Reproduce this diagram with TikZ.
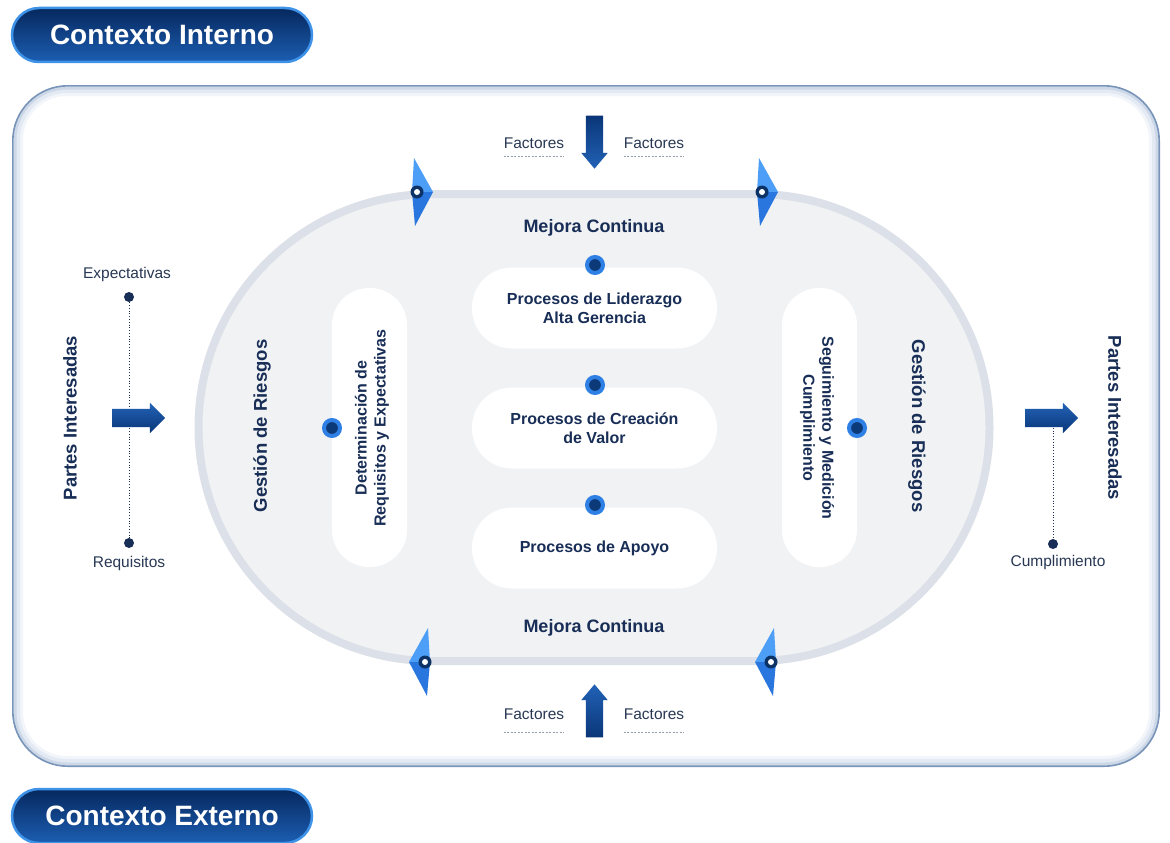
\documentclass[tikz,border=0pt]{standalone}
\usepackage{fontspec}
\setmainfont{Liberation Sans}
\usetikzlibrary{shapes.arrows,calc}
\definecolor{navy}{RGB}{24,46,86}
\definecolor{txt}{RGB}{40,56,84}
\definecolor{pilltop}{RGB}{6,40,94}
\definecolor{pillbot}{RGB}{28,94,178}
\definecolor{pillrim}{RGB}{62,146,232}
\definecolor{arrdark}{RGB}{10,54,120}
\definecolor{arrlight}{RGB}{34,98,182}
\definecolor{chevlight}{RGB}{76,158,246}
\definecolor{chevdark}{RGB}{40,118,222}
\definecolor{ringc}{RGB}{12,50,102}
\definecolor{stadfill}{RGB}{241,242,244}
\definecolor{stadband}{RGB}{220,224,232}
\definecolor{dotblue}{RGB}{46,128,228}
\definecolor{dotdark}{RGB}{12,58,120}
\definecolor{boxrim}{RGB}{120,148,184}
\definecolor{uline}{RGB}{150,158,172}
\begin{document}
\begin{tikzpicture}[x=1pt,y=-1pt,
  every node/.style={font=\fontsize{15.5}{18}\selectfont, text=txt},
  title/.style={rounded corners=27pt, minimum width=300pt, minimum height=54pt,
    top color=pilltop, bottom color=pillbot, draw=pillrim, line width=2.5pt,
    text=white, font=\fontsize{28}{32}\selectfont\bfseries},
  proc/.style={rectangle, rounded corners=40pt, fill=white, minimum width=245pt,
    minimum height=81pt, align=center, inner sep=0pt,
    font=\fontsize{16}{19}\selectfont\bfseries, text=navy},
  vpill/.style={rectangle, rounded corners=37pt, fill=white, minimum width=75pt,
    minimum height=279pt},
  vtext/.style={align=center, font=\fontsize{16}{19}\selectfont\bfseries, text=navy},
  bigtext/.style={font=\fontsize{18.5}{22}\selectfont\bfseries, text=navy},
  mejora/.style={font=\fontsize{18}{22}\selectfont\bfseries, text=navy},
  bdot/.style={circle, fill=dotdark, draw=dotblue, line width=4pt, minimum size=16pt, inner sep=0pt},
  sdot/.style={circle, fill=navy, minimum size=10pt, inner sep=0pt},
  harrow/.style={single arrow, single arrow head extend=6pt, minimum width=30pt,
    minimum height=53pt, inner sep=0pt, single arrow tip angle=90,
    top color=arrlight, bottom color=arrdark, draw=none},
  varrow/.style={single arrow, single arrow head extend=4.5pt, minimum width=26pt,
    minimum height=53pt, inner sep=0pt, single arrow tip angle=80, draw=none},
  factor/.style={inner sep=0pt},
  uline/.style={draw=uline, line width=0.8pt, dash pattern=on 2pt off 1.5pt},
  chev/.pic={
    \fill[chevlight] (-19,-34) -- (0,0) -- (-21,0) -- cycle;
    \fill[chevdark] (-21,0) -- (0,0) -- (-18,34) -- cycle;
    \fill[ringc] (-16,0) circle[radius=6.5];
    \fill[white] (-16,0) circle[radius=3];
  }
]
\useasboundingbox (0,0) rectangle (1170,843);
\fill[white] (0,0) rectangle (1170,843);

% outer box with inner shadow
\fill[white, rounded corners=55pt] (12,85) rectangle (1160,767);
\draw[draw={rgb,255:red,242;green,245;blue,250}, line width=4pt, rounded corners=46pt] (21,94) rectangle (1151,758);
\draw[draw={rgb,255:red,228;green,234;blue,243}, line width=4pt, rounded corners=49pt] (18,91) rectangle (1154,761);
\draw[draw={rgb,255:red,204;green,216;blue,232}, line width=3pt, rounded corners=52pt] (15,88) rectangle (1157,764);
\draw[draw=boxrim, line width=1.6pt, rounded corners=55pt] (12.8,85.8) rectangle (1159.2,766.2);

% title pills
\node[title] (ci) at (162,35) {Contexto Interno};
\node[title] (ce) at (162,816) {Contexto Externo};

% stadium
\draw[draw=stadband, line width=8pt, fill=stadfill, rounded corners=233.5pt] (198.5,194) rectangle (989.5,661);

% process pills
\node[proc] (lid) at (594.5,308) {Procesos de Liderazgo\\Alta Gerencia};
\node[proc] (cre) at (594.5,428) {Procesos de Creación\\de Valor};
\node[proc] (apo) at (594.5,548) {Procesos de Apoyo};
\node[vpill] (vl) at (369.5,427.5) {};
\node[vpill] (vr) at (819.5,427.5) {};
\node[vtext, rotate=90] (detx) at (372,428) {Determinación de\\Requisitos y Expectativas};
\node[vtext, rotate=-90] (segx) at (817,428) {Seguimiento y Medición\\Cumplimiento};

% blue dots
\node[bdot] (d1) at (595,265) {};
\node[bdot] (d2) at (595,385) {};
\node[bdot] (d3) at (595,505) {};
\node[bdot] (d4) at (332,428) {};
\node[bdot] (d5) at (857,428) {};

% labels inside stadium
\node[mejora] (mc1) at (594,228) {Mejora Continua};
\node[mejora] (mc2) at (594,628) {Mejora Continua};
\node[bigtext, rotate=90] (gr1) at (262,426) {Gestión de Riesgos};
\node[bigtext, rotate=-90] (gr2) at (917,426) {Gestión de Riesgos};

% chevrons
\pic at (433,192) {chev};
\pic at (778,192) {chev};
\pic[xscale=-1] at (409,662) {chev};
\pic[xscale=-1] at (755,662) {chev};

% factores
\node[varrow, rotate=-90, top color=arrdark, bottom color=arrlight] (adown) at (594.5,137) {\rule{0pt}{17pt}};
\node[varrow, rotate=90, top color=arrlight, bottom color=arrdark] (aup) at (594.5,716) {\rule{0pt}{17pt}};
\node[factor] (f1) at (534,143) {Factores};
\node[factor] (f2) at (654,143) {Factores};
\node[factor] (f3) at (534,714) {Factores};
\node[factor] (f4) at (654,714) {Factores};
\draw[uline] ([yshift=-8pt]f1.south west) -- ([yshift=-8pt]f1.south east);
\draw[uline] ([yshift=-8pt]f2.south west) -- ([yshift=-8pt]f2.south east);
\draw[uline] ([yshift=-13pt]f3.south west) -- ([yshift=-13pt]f3.south east);
\draw[uline] ([yshift=-13pt]f4.south west) -- ([yshift=-13pt]f4.south east);

% left side
\node[bigtext, rotate=90] (pi1) at (70,418) {Partes Interesadas};
\node[sdot] (de) at (129,297) {};
\node[sdot] (dr) at (129,543) {};
\node (lexp) at (127,274) {Expectativas};
\node (lreq) at (129,563) {Requisitos};
\draw[navy, line width=0.8pt, dotted] (de) -- (dr);
\node[harrow] (aL) at (134,418) {\rule{0pt}{18pt}};

% right side
\node[bigtext, rotate=-90] (pi2) at (1115,418) {Partes Interesadas};
\coordinate (rtop) at (1053,425);
\node[sdot] (dc) at (1053,544) {};
\node (lcum) at (1058,562) {Cumplimiento};
\draw[navy, line width=0.8pt, dotted] (rtop) -- (dc);
\node[harrow] (aR) at (1047,418) {\rule{0pt}{18pt}};
\end{tikzpicture}
\end{document}
